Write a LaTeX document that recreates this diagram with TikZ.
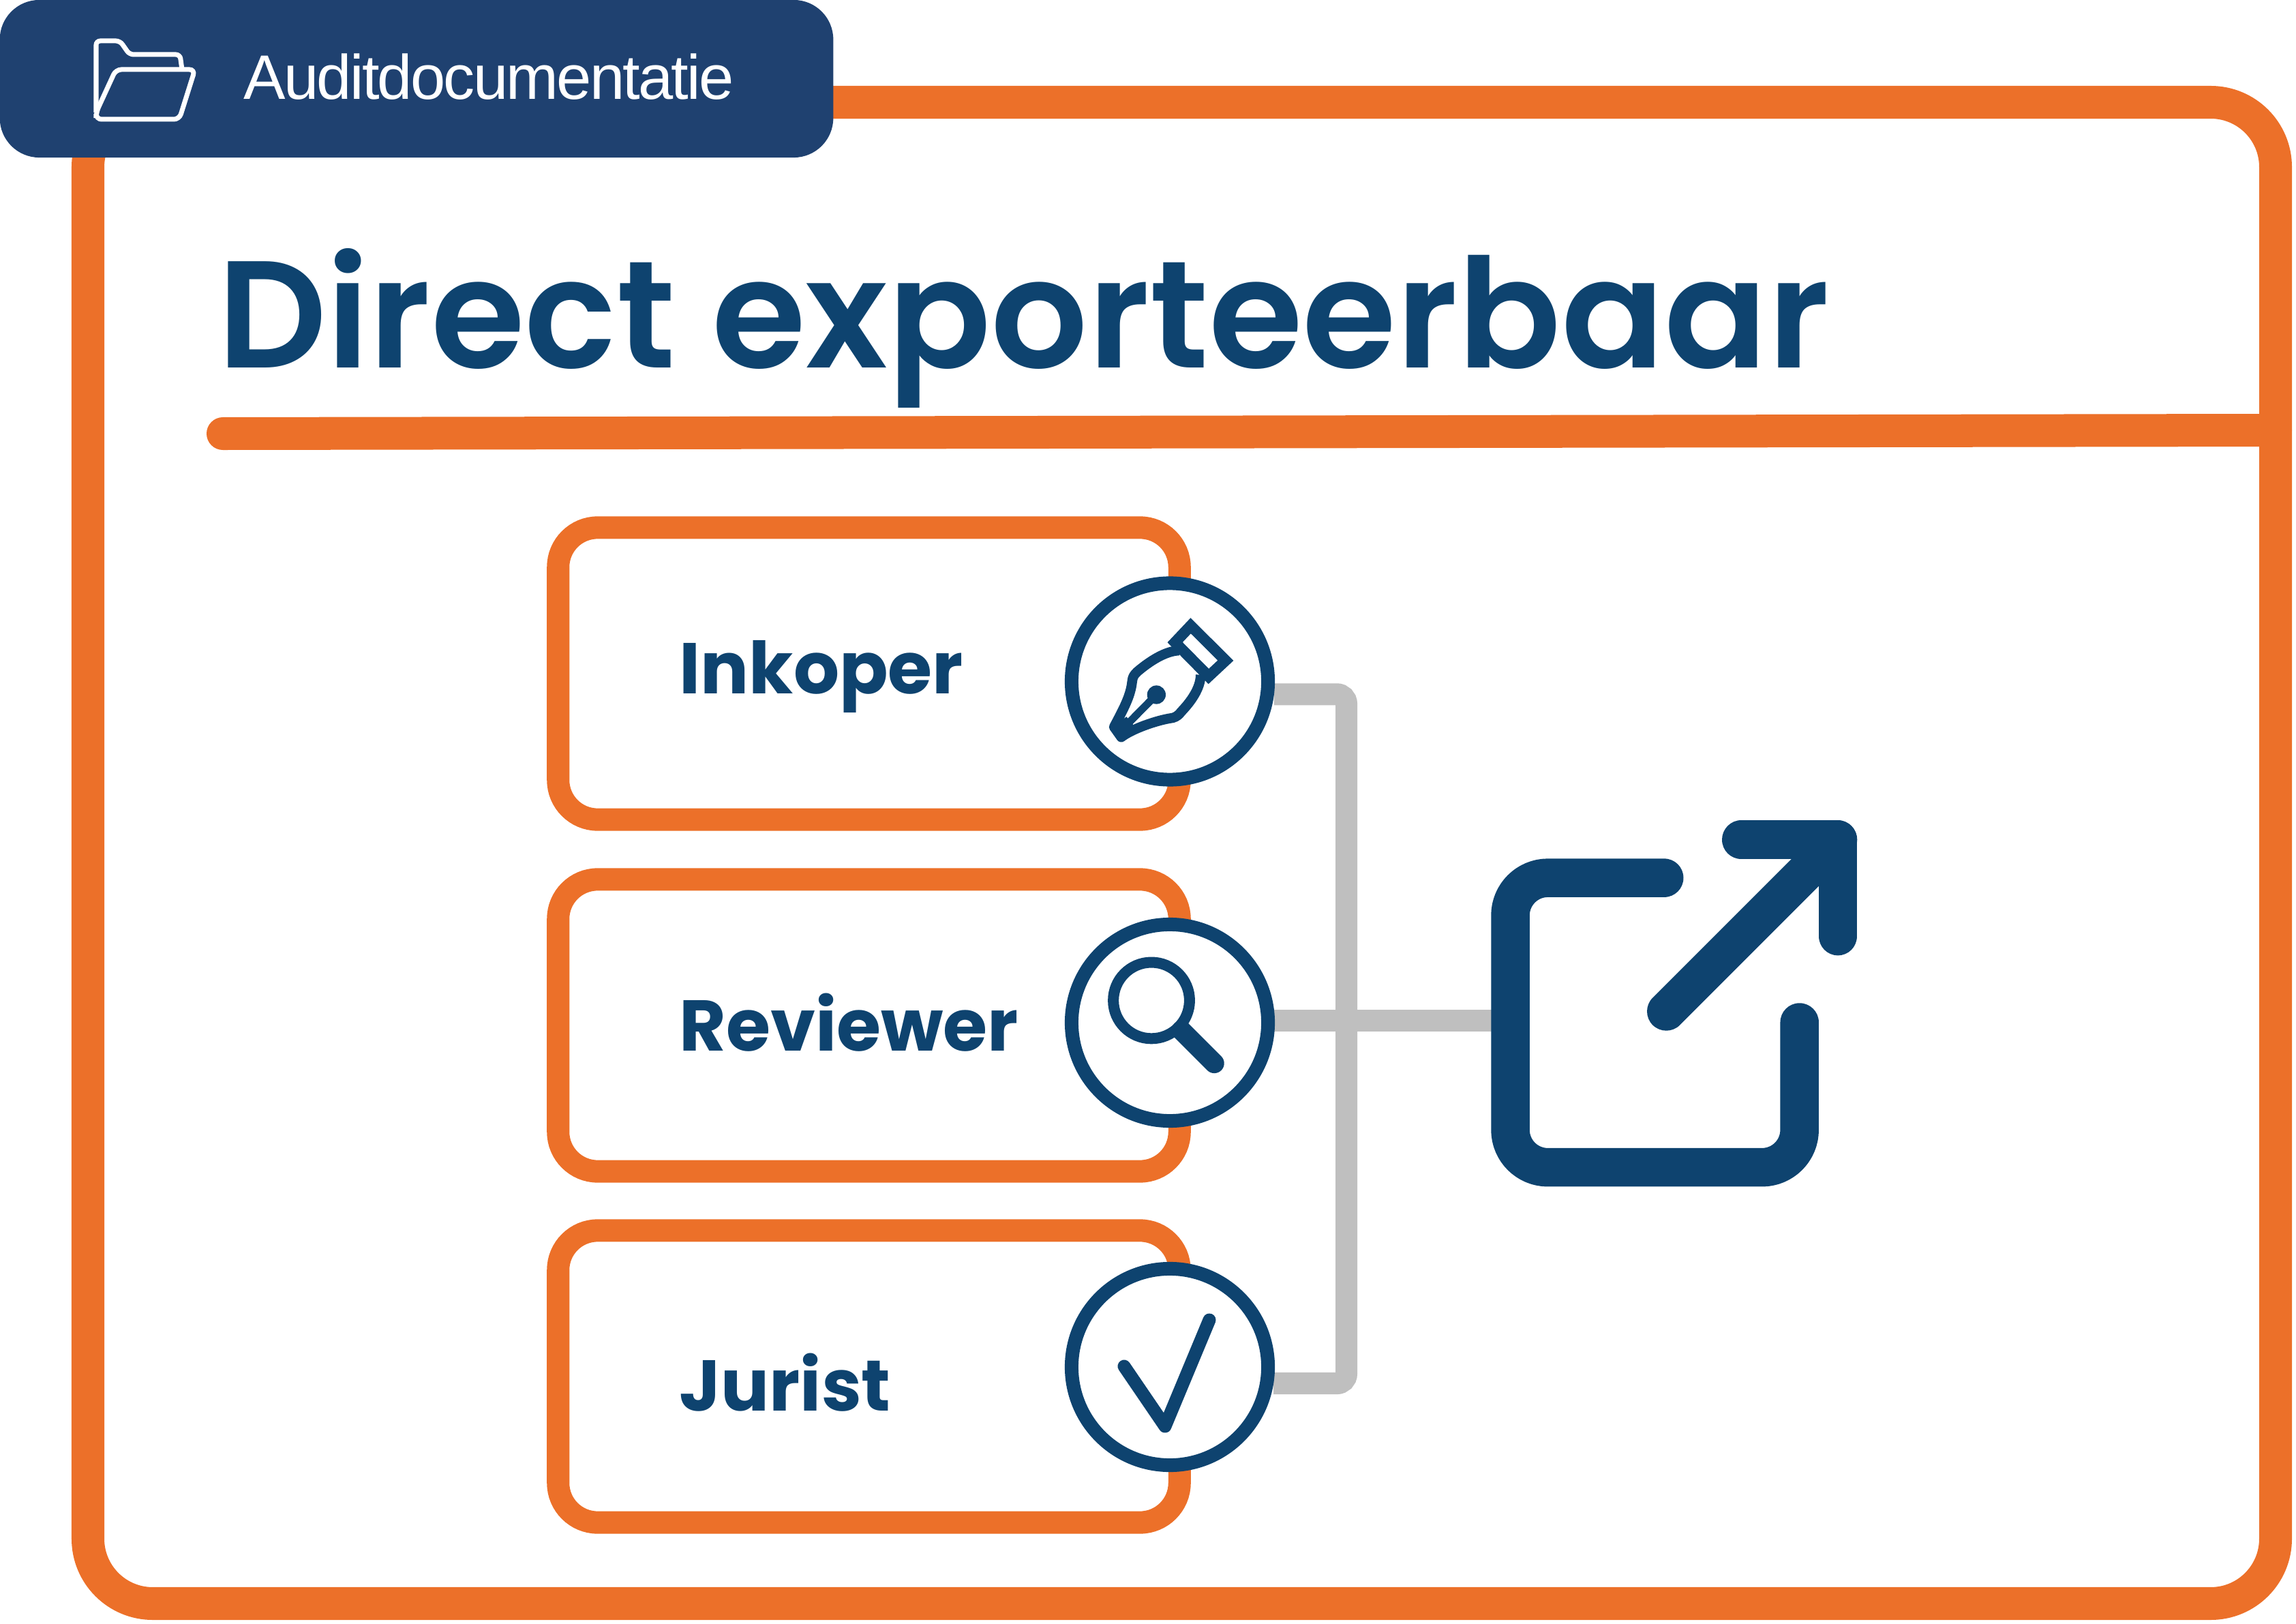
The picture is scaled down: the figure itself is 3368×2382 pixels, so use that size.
\documentclass[tikz,border=0pt]{standalone}
\usepackage{fontspec}
\usetikzlibrary{backgrounds}

\newfontfamily\tabfont[LetterSpace=-3]{Liberation Sans}
\newfontfamily\headfont{Poppins SemiBold}
\newfontfamily\labelfont{Poppins}
\definecolor{framecol}{HTML}{EC7029}
\definecolor{navy}{HTML}{0E436F}
\definecolor{tabcol}{HTML}{1F4170}
\definecolor{buscol}{HTML}{BFBFBF}

\tikzset{
 framing/.style={draw=framecol,line width=0.48cm},
 cardbox/.style={draw=framecol,line width=0.33cm,rounded corners=0.58cm,
   minimum width=9.11cm,minimum height=4.28cm,inner sep=0},
 ring/.style={circle,draw=navy,fill=white,line width=0.2cm,minimum size=2.88cm,inner sep=0},
 cardlabel/.style={anchor=base west,inner sep=0,text=navy,font=\labelfont\bfseries\fontsize{30}{36}\selectfont},
 bus/.style={draw=buscol,line width=0.32cm},
 penline/.style={draw=navy,line width=0.145cm,line join=round},
 exportline/.style={draw=navy,line width=0.565cm,line cap=round,line join=round},
}

\begin{document}
\begin{tikzpicture}[x=0.01cm,y=-0.01cm]

\newcommand{\card}[5] % [name][top][ring y][label][baseline]
{
 \node[cardbox] (#1Card) at (1274.5,#2+214) {};
 \node[ring] (#1Ring) at (1716,#3) {};
 \node[cardlabel] (#1Label) at (996,#5) {#4};
}

\useasboundingbox (0,0) rectangle (3368,2382);

\draw[framing,rounded corners=0.95cm] (129,150) rectangle (3338,2352);
\draw[framing,line cap=round] (327,636) -- (3338,631);

\node[fill=tabcol,rounded corners=0.58cm,minimum width=12.22cm,minimum height=2.31cm,inner sep=0] (tabBox) at (611,115.5) {};
\node[anchor=base west,inner sep=0,text=white,font=\tabfont\fontsize{26.2}{30}\selectfont] (tabText) at (357,146) {Auditdocumentatie};

\node[anchor=base west,inner sep=0,text=navy,font=\headfont\fontsize{63.5}{76}\selectfont] (title) at (319,540) {Direct exporteerbaar};

% folder
\draw[white,line width=0.07cm,rounded corners=0.06cm] (141,165) -- (141,60) -- (176,60) -- (190,80) -- (264,80) -- (267,102);
\draw[white,line width=0.07cm,rounded corners=0.08cm] (170,102) -- (286,102) -- (263,175) -- (141,175) -- (141,165) -- cycle;

\card{inkoper}{774}{999.5}{Inkoper}{1017}
\card{reviewer}{1290}{1500}{Reviewer}{1541}
\card{jurist}{1805}{2005}{Jurist}{2069}

\coordinate (busMid) at (1975,1497);
\coordinate (exportPort) at (2195,1497);
\begin{scope}[on background layer]
 \draw[bus,rounded corners=0.14cm] (inkoperRing.-7) -| (busMid) |- (juristRing.-9);
 \draw[bus,line cap=round] (reviewerRing.1) -- (exportPort |- reviewerRing.1);
\end{scope}

% pen
\begin{scope}[shift={(1500,820)},x=0.00333cm,y=-0.00333cm]
 \draw[penline,line width=0.16cm,line join=miter] (741,294) -- (895,447) -- (820,517) -- (672,367) -- cycle;
 \draw[penline] (690,403) .. controls (630,405) and (560,450) .. (505,497)
   .. controls (480,520) and (485,535) .. (480,560)
   .. controls (470,615) and (440,670) .. (403,740) -- (435,785)
   .. controls (480,750) and (590,710) .. (662,700)
   .. controls (680,695) and (690,685) .. (700,672)
   .. controls (740,630) and (785,570) .. (785,510);
 \fill[navy] (395,740) -- (458,695) -- (490,733) -- (440,790) -- cycle;
 \draw[penline,line width=0.11cm] (590,598) -- (430,760);
 \fill[navy] (590,598) circle (41);
\end{scope}

% magnifier
\begin{scope}[shift={(1500,1320)},x=0.00333cm,y=-0.00333cm]
 \draw[navy,line width=0.16cm] (568,443) circle (168);
 \draw[navy,line width=0.29cm,line cap=round] (700,575) -- (845,720);
\end{scope}

% check
\draw[navy,line width=0.19cm,line cap=round,line join=round] (1649,2004) -- (1709,2092) -- (1774,1936);

% export
\begin{scope}[shift={(2150,1170)},x=0.003827cm,y=-0.003827cm]
 \draw[exportline,rounded corners=0.55cm] (760,307) -- (171,307) -- (171,1415) -- (1278,1415) -- (1278,860);
 \draw[exportline] (768,818) -- (1425,161);
 \draw[exportline] (1055,161) -- (1425,161) -- (1425,530);
\end{scope}

\end{tikzpicture}
\end{document}
